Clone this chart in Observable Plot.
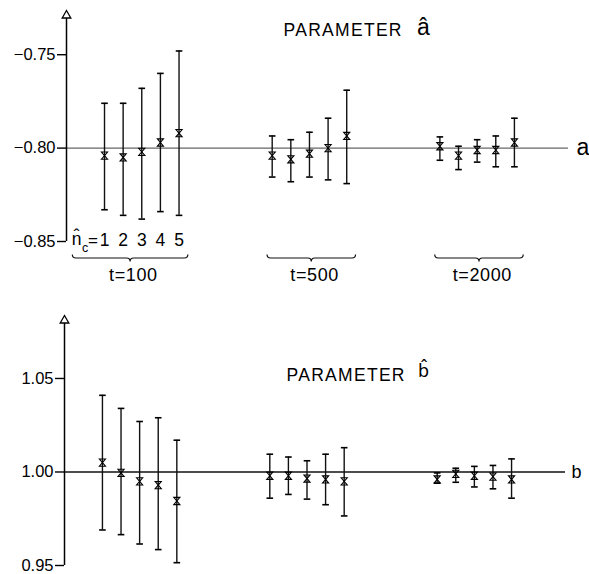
<!DOCTYPE html>
<html>
<head>
<meta charset="utf-8">
<script src="https://cdn.jsdelivr.net/npm/d3@7"></script>
<script src="https://cdn.jsdelivr.net/npm/@observablehq/plot@0.6"></script>
<style>
  body { margin: 0; background: #fff; }
  #chart svg { display: block; }
</style>
</head>
<body>
<div id="chart"></div>
<script>
// Series lengths and the estimated number of clusters n̂c within each group
const groups = ["t=100", "t=500", "t=2000"];
const ncValues = [1, 2, 3, 4, 5];

// Parameter a: true value, mean estimate and interval, ordered group by group, n̂c = 1..5
const aTrue = -0.80;
const aMean = [-0.804, -0.805, -0.802, -0.797, -0.792,
               -0.804, -0.806, -0.803, -0.800, -0.7935,
               -0.799, -0.804, -0.801, -0.801, -0.797];
const aLow  = [-0.833, -0.836, -0.838, -0.834, -0.836,
               -0.8155, -0.818, -0.8155, -0.817, -0.819,
               -0.8065, -0.8115, -0.8075, -0.810, -0.810];
const aHigh = [-0.776, -0.776, -0.768, -0.760, -0.748,
               -0.7935, -0.7955, -0.7915, -0.784, -0.769,
               -0.794, -0.799, -0.7955, -0.7935, -0.784];

// Parameter b
const bTrue = 1.00;
const bMean = [1.005, 0.9995, 0.995, 0.993, 0.9845,
               0.998, 0.998, 0.9965, 0.996, 0.995,
               0.996, 0.999, 0.998, 0.9975, 0.996];
const bLow  = [0.969, 0.9665, 0.9615, 0.9585, 0.9515,
               0.986, 0.988, 0.9855, 0.9825, 0.9765,
               0.994, 0.9945, 0.992, 0.991, 0.986];
const bHigh = [1.041, 1.034, 1.027, 1.029, 1.017,
               1.0095, 1.008, 1.006, 1.0095, 1.013,
               0.9995, 1.002, 1.003, 1.0035, 1.007];

// Axis ticks and their printed labels
const aTicks = [-0.85, -0.80, -0.75];
const aTickLabels = ["\u22120.85", "\u22120.80", "\u22120.75"];
const bTicks = [0.95, 1.00, 1.05];
const bTickLabels = ["0.95", "1.00", "1.05"];

// Horizontal layout: each group occupies slots n̂c = 1..5, groups GAP slots apart
const GAP = 9;
const xDomain = [-1.04, 27.03];
const refEnd = 25.9;

const FONT = "'Liberation Sans', Arial, Helvetica, sans-serif";
const ACCENT_FONT = "'Noto Sans', 'Liberation Sans', sans-serif";

function rows(mean, low, high) {
  return mean.map((m, i) => {
    const g = Math.floor(i / ncValues.length);
    const n = ncValues[i % ncValues.length];
    return {g, n, x: g * GAP + n, mean: m, low: low[i], high: high[i]};
  });
}

// Small hourglass marker for the estimates, flat caps for the interval ends
const hourglass = {
  draw(ctx, size) {
    const r = Math.sqrt(size / Math.PI), w = r * 0.85;
    ctx.moveTo(-w, -r); ctx.lineTo(w, -r); ctx.lineTo(-w, r); ctx.lineTo(w, r); ctx.closePath();
  }
};
const cap = {
  draw(ctx, size) {
    const r = Math.sqrt(size / Math.PI);
    ctx.moveTo(-r, 0); ctx.lineTo(r, 0);
  }
};

// Braces under each group, positioned with the x scale
const braceExtents = groups.map((label, g) => ({
  label,
  start: g === 0 ? -0.7 : g * GAP + 0.75,
  end: g * GAP + 5.5
}));
function braces(index, scales, values, dims) {
  const grp = d3.create("svg:g")
    .attr("fill", "none").attr("stroke", "#111").attr("stroke-width", 1.2);
  const y0 = dims.height - dims.marginBottom + 17, q = 3.5;
  for (const e of braceExtents) {
    const xa = scales.x(e.start), xb = scales.x(e.end), xm = (xa + xb) / 2;
    grp.append("path").attr("d",
      `M${xa},${y0 - q}Q${xa},${y0} ${xa + q},${y0}L${xm - q},${y0}` +
      `Q${xm},${y0} ${xm},${y0 + q}Q${xm},${y0} ${xm + q},${y0}` +
      `L${xb - q},${y0}Q${xb},${y0} ${xb},${y0 - q}`);
  }
  return grp.node();
}

// Title: the word, then the estimated symbol with its circumflex
function titleMarks(t) {
  return [
    Plot.text(["PARAMETER"], {frameAnchor: "top-left", dx: t.dx, dy: t.dy, textAnchor: "start",
      lineAnchor: "middle", fontSize: 17.5, fill: "#000"}),
    Plot.text([t.symbol], {frameAnchor: "top-left", dx: t.symDx, dy: t.symDy, textAnchor: "middle",
      lineAnchor: "middle", fontSize: t.symSize, fontFamily: t.symFont || FONT, fill: "#000"})
  ];
}

function panel({data, truth, ticks, tickLabels, yDomain, title, refLabel, refDx, refSize,
                refColor, height, marginLeft, marginRight, marginTop, marginBottom, footer}) {
  const axisLine = [{x: xDomain[0], y1: yDomain[0], y2: yDomain[1]}];
  const marks = [
    // reference line at the true value
    Plot.ruleY([{y: truth, x1: xDomain[0], x2: refEnd}],
      {y: "y", x1: "x1", x2: "x2", stroke: refColor, strokeWidth: 1.3}),
    Plot.text([refLabel], {x: refEnd, y: truth, dx: refDx, textAnchor: "start",
      fontSize: refSize, fill: "#000"}),
    // vertical axis with open arrowhead
    Plot.ruleX(axisLine, {x: "x", y1: "y1", y2: "y2", stroke: "#000", strokeWidth: 1.5}),
    Plot.dot(axisLine, {x: "x", y: "y2", symbol: "triangle", r: 3.2,
      fill: "#fff", stroke: "#000", strokeWidth: 1.3}),
    Plot.axisY(ticks, {tickSize: 9, tickPadding: 2, strokeWidth: 1.4, label: null,
      tickFormat: d => tickLabels[ticks.indexOf(d)]}),
    // intervals, caps and estimates
    Plot.ruleX(data, {x: "x", y1: "low", y2: "high", stroke: "#111", strokeWidth: 1.4}),
    Plot.dot(data, {x: "x", y: "high", symbol: cap, r: 3.3, stroke: "#000", strokeWidth: 1.6}),
    Plot.dot(data, {x: "x", y: "low", symbol: cap, r: 3.3, stroke: "#000", strokeWidth: 1.6}),
    Plot.dot(data, {x: "x", y: "mean", symbol: hourglass, r: 3.6, fill: "none",
      stroke: "#000", strokeWidth: 1.1}),
    ...titleMarks(title)
  ];
  if (footer) {
    const first = data.filter(d => d.g === 0);
    marks.push(
      Plot.text(first, {x: "x", text: d => String(d.n), frameAnchor: "bottom", dy: -1,
        lineAnchor: "middle", fontSize: 17.5, fill: "#000"}),
      Plot.text(["n\u0302"], {x: first[0].x, frameAnchor: "bottom", dx: -28, dy: -2,
        lineAnchor: "middle", fontSize: 17.5, fill: "#000"}),
      Plot.text(["c"], {x: first[0].x, frameAnchor: "bottom", dx: -19.5, dy: 6,
        lineAnchor: "middle", fontSize: 12.5, fill: "#000"}),
      Plot.text(["="], {x: first[0].x, frameAnchor: "bottom", dx: -11.5, dy: -1,
        lineAnchor: "middle", fontSize: 17, fill: "#000"}),
      braces,
      Plot.text(braceExtents, {x: d => (d.start + d.end) / 2 + 0.15, text: "label",
        frameAnchor: "bottom", dy: 34, lineAnchor: "middle", fontSize: 18, fill: "#000"})
    );
  }
  const svg = Plot.plot({
    width: 589, height, marginLeft, marginRight, marginTop, marginBottom,
    style: {fontFamily: FONT, fontSize: "16.5px", color: "#000", background: "#fff", overflow: "visible"},
    x: {domain: xDomain, axis: null},
    y: {domain: yDomain, axis: null},
    marks
  });
  const sel = d3.select(svg).selectAll("text");
  sel.filter(function () { return this.textContent === "PARAMETER"; })
    .attr("letter-spacing", "1.3px");
  sel.filter(function () { return /^t=/.test(this.textContent); })
    .attr("letter-spacing", "0.6px");
  return svg;
}

const chart = document.getElementById("chart");
chart.append(panel({
  data: rows(aMean, aLow, aHigh), truth: aTrue, ticks: aTicks, tickLabels: aTickLabels,
  yDomain: [-0.85, -0.729],
  title: {dx: 217, dy: 15, symbol: "\u00e2", symDx: 357, symDy: 12, symSize: 23},
  refLabel: "a", refDx: 8, refSize: 23, refColor: "#666",
  height: 290, marginLeft: 66, marginRight: 0, marginTop: 15, marginBottom: 49, footer: true
}));
chart.append(panel({
  data: rows(bMean, bLow, bHigh), truth: bTrue, ticks: bTicks, tickLabels: bTickLabels,
  yDomain: [0.95, 1.081],
  title: {dx: 222, dy: 55, symbol: "b\u0302", symDx: 359, symDy: 51, symSize: 18, symFont: ACCENT_FONT},
  refLabel: "b", refDx: 6, refSize: 18, refColor: "#111",
  height: 284, marginLeft: 64, marginRight: 3, marginTop: 30, marginBottom: 9, footer: false
}));
</script>
</body>
</html>
